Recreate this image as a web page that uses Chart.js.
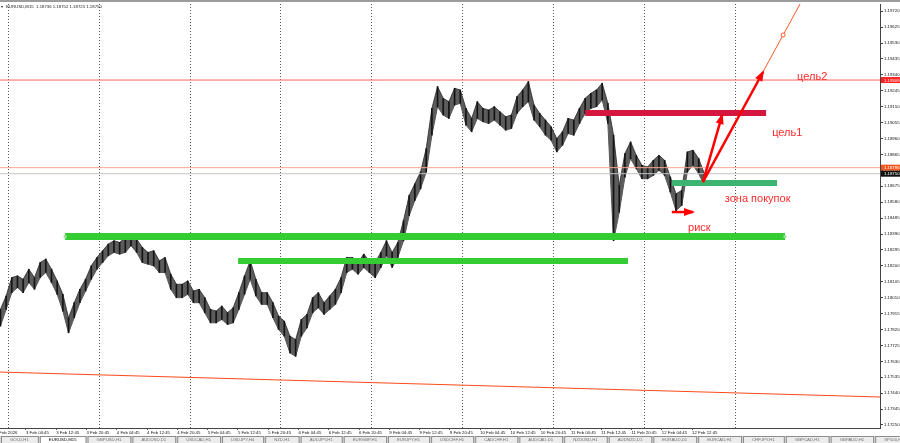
<!DOCTYPE html>
<html>
<head>
<meta charset="utf-8">
<script src="https://cdn.jsdelivr.net/npm/chart.js@4.4.0/dist/chart.umd.min.js"></script>
<style>
  html, body { margin: 0; padding: 0; background: #fff; }
  #wrap { width: 900px; height: 443px; }
</style>
</head>
<body>
<div id="wrap"><canvas id="chart" width="900" height="443"></canvas></div>
<script>
// ── data ───────────────────────────────────────────────────────────
// x is in trading hours from 2 Feb 00:00 (weekend removed), one point per 1.5h
const START_H = 22;
const STEP_H  = 1.5;

const barHigh = [
  1.1794, 1.1802, 1.1813, 1.1814, 1.1812, 1.1818, 1.1813, 1.1822, 1.1824, 1.1818,
  1.1811, 1.1803, 1.1789, 1.1798, 1.1806, 1.1812, 1.1820, 1.1825, 1.1829, 1.1833,
  1.1835, 1.1834, 1.1837, 1.1839, 1.1836, 1.1831, 1.1828, 1.1829, 1.1823, 1.1825,
  1.1815, 1.1809, 1.1809, 1.1811, 1.1805, 1.1806, 1.1801, 1.1794, 1.1793, 1.1796,
  1.1792, 1.1795, 1.1804, 1.1814, 1.1823, 1.1812, 1.1804, 1.1804, 1.1798, 1.1790,
  1.1787, 1.1778, 1.1776, 1.1788, 1.1791, 1.1801, 1.1804, 1.1798, 1.1802, 1.1806,
  1.1813, 1.1825, 1.1825, 1.1822, 1.1827, 1.1823, 1.1822, 1.1828, 1.1835, 1.1828,
  1.1834, 1.1847, 1.1862, 1.1869, 1.1876, 1.1890, 1.1914, 1.1927, 1.1920, 1.1918,
  1.1926, 1.1925, 1.1914, 1.1908, 1.1918, 1.1914, 1.1913, 1.1915, 1.1912, 1.1909,
  1.1910, 1.1921, 1.1925, 1.1930, 1.1916, 1.1911, 1.1907, 1.1903, 1.1896, 1.1900,
  1.1908, 1.1907, 1.1914, 1.1920, 1.1923, 1.1925, 1.1929, 1.1917, 1.1898, 1.1868,
  1.1887, 1.1894, 1.1886, 1.1880, 1.1879, 1.1883, 1.1886, 1.1883, 1.1873, 1.1863,
  1.1865, 1.1888, 1.1889, 1.1884, 1.1875
];
const barLow = [
  1.1784, 1.1794, 1.1804, 1.1807, 1.1804, 1.1810, 1.1806, 1.1813, 1.1816, 1.1810,
  1.1803, 1.1793, 1.1780, 1.1789, 1.1798, 1.1805, 1.1812, 1.1818, 1.1822, 1.1826,
  1.1828, 1.1827, 1.1828, 1.1832, 1.1828, 1.1822, 1.1821, 1.1820, 1.1816, 1.1816,
  1.1806, 1.1801, 1.1801, 1.1803, 1.1798, 1.1798, 1.1792, 1.1786, 1.1786, 1.1788,
  1.1785, 1.1786, 1.1794, 1.1803, 1.1812, 1.1802, 1.1797, 1.1797, 1.1789, 1.1782,
  1.1778, 1.1768, 1.1766, 1.1778, 1.1783, 1.1792, 1.1795, 1.1791, 1.1794, 1.1797,
  1.1804, 1.1816, 1.1818, 1.1815, 1.1819, 1.1816, 1.1813, 1.1819, 1.1826, 1.1819,
  1.1825, 1.1835, 1.1850, 1.1859, 1.1866, 1.1876, 1.1898, 1.1915, 1.1910, 1.1908,
  1.1916, 1.1917, 1.1904, 1.1900, 1.1908, 1.1906, 1.1905, 1.1907, 1.1904, 1.1901,
  1.1902, 1.1911, 1.1915, 1.1918, 1.1907, 1.1903, 1.1898, 1.1895, 1.1888, 1.1892,
  1.1899, 1.1898, 1.1905, 1.1911, 1.1914, 1.1915, 1.1919, 1.1905, 1.1835, 1.1852,
  1.1873, 1.1884, 1.1878, 1.1872, 1.1872, 1.1874, 1.1877, 1.1874, 1.1864, 1.1853,
  1.1856, 1.1876, 1.1880, 1.1875, 1.1868
];

const Y_TICKS = [
  1.17250, 1.17345, 1.17440, 1.17535, 1.17630, 1.17725, 1.17820, 1.17915, 1.18010,
  1.18105, 1.18200, 1.18295, 1.18390, 1.18485, 1.18580, 1.18675, 1.18770, 1.18865,
  1.18960, 1.19055, 1.19150, 1.19245, 1.19340, 1.19435, 1.19530, 1.19625, 1.19720
];
const X_LABEL_HOURS = [
  20.75, 28.75, 36.75, 44.75, 52.75, 60.75, 68.75, 76.75, 84.75, 92.75, 100.75, 108.75,
  116.75, 124.75, 132.75, 140.75, 148.75, 156.75, 164.75, 172.75, 180.75, 188.75, 196.75, 204.75
];
const X_LABELS = [
  '2 Feb 2026', '3 Feb 04:45', '3 Feb 12:45', '3 Feb 20:45', '4 Feb 04:45', '4 Feb 12:45',
  '4 Feb 20:45', '5 Feb 04:45', '5 Feb 12:45', '5 Feb 20:45', '6 Feb 04:45', '6 Feb 12:45',
  '6 Feb 20:45', '9 Feb 04:45', '9 Feb 12:45', '9 Feb 20:45', '10 Feb 04:45', '10 Feb 12:45',
  '10 Feb 20:45', '11 Feb 04:45', '11 Feb 12:45', '11 Feb 20:45', '12 Feb 04:45', '12 Feb 12:45'
];
const DAY_BREAKS = [24, 48, 72, 96, 120, 144, 168, 192, 216];

const X_MIN = 21.89, X_MAX = 254.4;
const Y_MIN = 1.17232, Y_MAX = 1.19763;

// horizontal levels
const TARGET2_PRICE = 1.19309;
const ASK_PRICE     = 1.18786;
const BID_PRICE     = 1.18750;
// sloping support line [x1, y1, x2, y2]
const trendLine = [21.89, 1.17566, 254.4, 1.17417];
// ray through the circle marker [x1, y1, xMid, yMid, x2, y2]
const rayLine   = [207.6, 1.18700, 228.8, 1.19578, 236.5, 1.19897];

// zones [xStart, xEnd, price]
const zoneTarget1 = [176.5, 224.3, 1.19112];
const zoneBuy     = [199.4, 227.2, 1.18695];
const zoneRisk    = [39.1, 229.3, 1.18375];
const zoneLower   = [84.8, 187.8, 1.18229];

// arrows [xFrom, yFrom, xTo, yTo]
const arrowLong  = [207.6, 1.18700, 223.5, 1.19357];
const arrowShort = [207.6, 1.18700, 212.7, 1.19100];
const arrowRisk  = [199.4, 1.18521, 205.0, 1.18521];

const NOTE_TEXT = ['цель2', 'цель1', 'зона покупок', 'риск'];
const NOTE_X    = [232.5, 225.9, 213.4, 203.7];
const NOTE_Y    = [1.19327, 1.18993, 1.18599, 1.18426];

const TITLE = 'EURUSD,M15  1.18736 1.18752 1.18725 1.18750';
const TABS = ['GOLD,H1', 'EURUSD,M15', 'GBPUSD,H1', 'AUDUSD,D1', 'USDCAD,H1', 'USDJPY,H4',
  'NZD,H1', 'AUDJPY,H1', 'EURGBP,H1', 'EURJPY,H1', 'USDCHF,H1', 'CADCHF,H1', 'AUDCAD,D1',
  'NZDUSD,H1', 'AUDNZD,D1', 'EURAUD,D1', 'EURCAD,H1', 'CHFJPY,H1', 'GBPCAD,H1', 'GBPAUD,H1', 'SP500,H1'];

// ── helpers ────────────────────────────────────────────────────────
const FONT = "'Liberation Sans', Arial, sans-serif";
const TINY = 4.3;

const seg = (x1, y1, x2, y2) => [{ x: x1, y: y1 }, { x: x2, y: y2 }];

function lineSet(data, color, width, extra) {
  return Object.assign({
    type: 'line', data, borderColor: color, borderWidth: width,
    pointRadius: 0, tension: 0, fill: false, borderCapStyle: 'butt'
  }, extra || {});
}

const hourOf = i => START_H + i * STEP_H;
const pricePoints = arr => arr.map((v, i) => ({ x: hourOf(i), y: v }));

// ── plugins ────────────────────────────────────────────────────────
const chromePlugin = {
  id: 'chrome',
  beforeDraw(chart) {
    const { ctx } = chart;
    ctx.save();
    ctx.fillStyle = '#fff';
    ctx.fillRect(0, 0, chart.width, chart.height);
    ctx.fillStyle = '#9c9c9c';
    ctx.fillRect(0, 0, chart.width, 2);
    ctx.restore();
  },
  beforeDatasetsDraw(chart) {
    const { ctx, chartArea: a, scales: { x } } = chart;
    ctx.save();
    ctx.strokeStyle = '#5a5a5a';
    ctx.lineWidth = 1;
    ctx.setLineDash([1, 2]);
    DAY_BREAKS.forEach(h => {
      const px = Math.round(x.getPixelForValue(h)) + 0.5;
      ctx.beginPath();
      ctx.moveTo(px, a.top);
      ctx.lineTo(px, a.bottom);
      ctx.stroke();
    });
    ctx.restore();
  },
  afterDraw(chart) {
    const { ctx, chartArea: a, scales: { x, y } } = chart;
    ctx.save();

    // arrow heads
    chart.data.datasets.forEach((ds, i) => {
      if (!ds.arrowHead) return;
      const pts = chart.getDatasetMeta(i).data;
      const p0 = pts[pts.length - 2], p1 = pts[pts.length - 1];
      const ang = Math.atan2(p1.y - p0.y, p1.x - p0.x);
      const len = 9, half = 4;
      ctx.fillStyle = ds.borderColor;
      ctx.beginPath();
      ctx.moveTo(p1.x + Math.cos(ang) * 2, p1.y + Math.sin(ang) * 2);
      ctx.lineTo(p1.x - Math.cos(ang) * len - Math.sin(ang) * half, p1.y - Math.sin(ang) * len + Math.cos(ang) * half);
      ctx.lineTo(p1.x - Math.cos(ang) * len + Math.sin(ang) * half, p1.y - Math.sin(ang) * len - Math.cos(ang) * half);
      ctx.closePath();
      ctx.fill();
    });

    // small anchor marks at the ends of the long support zone
    ctx.fillStyle = '#9be09b';
    [zoneRisk[0], zoneRisk[1]].forEach(h => {
      ctx.fillRect(x.getPixelForValue(h) - 1.5, y.getPixelForValue(zoneRisk[2]) - 1.5, 3, 3);
    });

    // notes
    ctx.fillStyle = '#ff2b2b';
    ctx.font = `11px ${FONT}`;
    ctx.textBaseline = 'middle';
    ctx.textAlign = 'left';
    NOTE_TEXT.forEach((t, i) => ctx.fillText(t, x.getPixelForValue(NOTE_X[i]), y.getPixelForValue(NOTE_Y[i])));

    // title
    ctx.fillStyle = '#222';
    ctx.font = `${TINY}px ${FONT}`;
    ctx.fillText('▾', 1, 7);
    ctx.fillText(TITLE, 6, 7);

    // price tags on the right axis
    const tag = (price, bg) => {
      const py = y.getPixelForValue(price);
      ctx.fillStyle = bg;
      ctx.fillRect(a.right + 1, py - 3, chart.width - a.right - 1, 6);
      ctx.fillStyle = '#fff';
      ctx.fillText(price.toFixed(5), a.right + 4, py + 0.3);
    };
    tag(TARGET2_PRICE, '#ff2020');
    tag(ASK_PRICE, '#f4571e');
    tag(BID_PRICE, '#111');

    // tab strip
    const top = 436;
    ctx.fillStyle = '#d6d6d6';
    ctx.fillRect(0, top, chart.width, chart.height - top);
    let tx = 1;
    TABS.forEach((t, i) => {
      const w = ctx.measureText(t).width + 18;
      ctx.fillStyle = i === 1 ? '#fff' : '#ececec';
      ctx.fillRect(tx, top + 1, w, chart.height - top - 1);
      ctx.strokeStyle = '#8c8c8c';
      ctx.strokeRect(tx + 0.5, top + 0.5, w, chart.height - top);
      ctx.fillStyle = i === 1 ? '#000' : '#707070';
      ctx.fillText(t, tx + 9, top + 4);
      tx += w + 2;
    });
    ctx.restore();
  }
};

// ── chart ──────────────────────────────────────────────────────────
const ctx = document.getElementById('chart').getContext('2d');
new Chart(ctx, {
  type: 'line',
  data: {
    datasets: [
      lineSet(seg(...arrowLong), '#ff0000', 2.5, { arrowHead: true }),
      lineSet(seg(...arrowShort), '#ff0000', 2.5, { arrowHead: true }),
      lineSet(seg(...arrowRisk), '#ff0000', 2.5, { arrowHead: true }),
      lineSet([{ x: rayLine[0], y: rayLine[1] }, { x: rayLine[2], y: rayLine[3] }, { x: rayLine[4], y: rayLine[5] }],
        '#ff5a2a', 1, { pointRadius: [0, 2, 0], pointBorderColor: '#ff5a2a', pointBackgroundColor: '#fff', pointBorderWidth: 1 }),
      lineSet(seg(zoneTarget1[0], zoneTarget1[2], zoneTarget1[1], zoneTarget1[2]), '#d3173f', 6),
      lineSet(seg(zoneBuy[0], zoneBuy[2], zoneBuy[1], zoneBuy[2]), '#3cb371', 6),
      lineSet(seg(zoneRisk[0], zoneRisk[2], zoneRisk[1], zoneRisk[2]), '#33cc33', 7),
      lineSet(seg(zoneLower[0], zoneLower[2], zoneLower[1], zoneLower[2]), '#33cc33', 6),
      lineSet(seg(X_MIN, TARGET2_PRICE, X_MAX, TARGET2_PRICE), '#ff6464', 1),
      lineSet(seg(...trendLine), '#ff4a1a', 1),
      lineSet(seg(X_MIN, ASK_PRICE, X_MAX, ASK_PRICE), '#f6a58e', 1),
      lineSet(seg(X_MIN, BID_PRICE, X_MAX, BID_PRICE), '#c4c4c4', 1),
      {
        type: 'bar',
        data: barHigh.map((h, i) => ({ x: hourOf(i), y: [barLow[i], h] })),
        backgroundColor: '#141414',
        borderWidth: 0,
        barThickness: 1,
      },
      lineSet(pricePoints(barHigh), '#2a2a2a', 0.8, { fill: '+1', backgroundColor: '#5c5c5c' }),
      lineSet(pricePoints(barLow), '#2a2a2a', 0.8),
    ],
  },
  options: {
    responsive: false,
    animation: false,
    events: [],
    layout: { padding: { top: 4, bottom: 7, left: 0, right: 0 } },
    plugins: { legend: { display: false }, tooltip: { enabled: false } },
    scales: {
      x: {
        type: 'linear', min: X_MIN, max: X_MAX, offset: false,
        afterBuildTicks: s => { s.ticks = X_LABEL_HOURS.map(v => ({ value: v })); },
        afterFit: s => { s.height = 8; s.paddingLeft = 0; s.paddingRight = 0; },
        ticks: {
          autoSkip: false, maxRotation: 0, align: 'start', padding: 0,
          color: '#111', font: { family: FONT, size: TINY },
          callback: (v, i) => X_LABELS[i],
        },
        grid: { drawOnChartArea: false, tickLength: 2, color: '#555', offset: false },
        border: { color: '#444' },
      },
      y: {
        type: 'linear', position: 'right', min: Y_MIN, max: Y_MAX,
        afterBuildTicks: s => { s.ticks = Y_TICKS.map(v => ({ value: v })); },
        afterFit: s => { s.width = 20; s.paddingTop = 0; s.paddingBottom = 0; },
        ticks: {
          padding: 1, color: '#111', font: { family: FONT, size: TINY },
          callback: v => v.toFixed(5),
        },
        grid: { drawOnChartArea: false, tickLength: 3, color: '#444' },
        border: { color: '#444' },
      },
    },
  },
  plugins: [chromePlugin],
});
</script>
</body>
</html>
